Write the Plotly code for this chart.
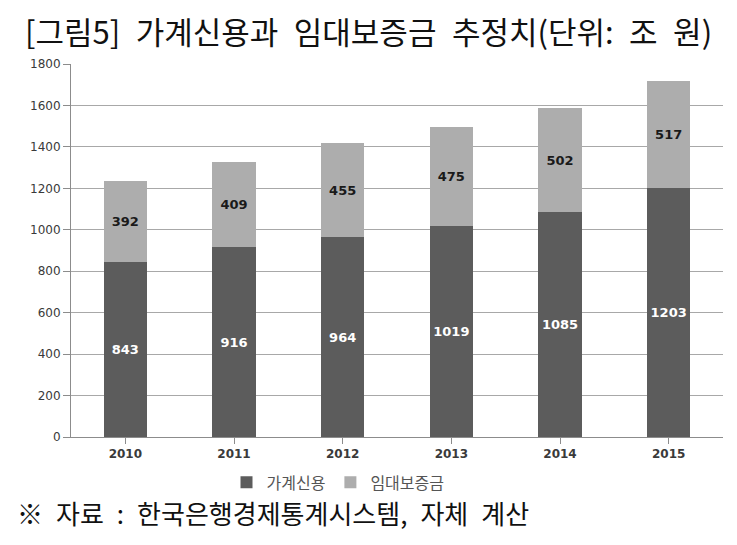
import plotly.graph_objects as go

years = ["2010", "2011", "2012", "2013", "2014", "2015"]
household_credit = [843, 916, 964, 1019, 1085, 1203]
rent_deposit = [392, 409, 455, 475, 502, 517]
y_ticks = [0, 200, 400, 600, 800, 1000, 1200, 1400, 1600, 1800]

title_text = "[그림5] 가계신용과 임대보증금 추정치(단위: 조 원)"
source_text = "※ 자료 : 한국은행경제통계시스템, 자체 계산"

EN = "\u2002"  # half-em space, as in the original's wide Korean typesetting

fig = go.Figure()
fig.add_trace(go.Bar(
    x=years, y=household_credit, name="가계신용",
    marker=dict(color="#5c5c5c", line=dict(width=0)),
    text=[str(v) for v in household_credit], textposition="inside",
    insidetextanchor="middle",
    textfont=dict(family="DejaVu Sans", size=13, color="white", weight="bold"),
))
fig.add_trace(go.Bar(
    x=years, y=rent_deposit, name="임대보증금",
    marker=dict(color="#adadad", line=dict(width=0)),
    text=[str(v) for v in rent_deposit], textposition="inside",
    insidetextanchor="middle",
    textfont=dict(family="DejaVu Sans", size=13, color="#1a1a1a", weight="bold"),
))

# The page body has an 8px default margin; work in window pixels and subtract it.
OFF = 8
W, H = 737 - OFF, 545 - OFF
L = 71 - OFF
T = 64 - OFF
R = W - (723 - OFF)
B = H - (437.5 - OFF)
plot_w = W - L - R
plot_h = H - T - B

def px_x(pix):
    return (pix - OFF - L) / plot_w

def px_y(pix):
    return (H - B - (pix - OFF)) / plot_h

fig.update_layout(
    width=W, height=H,
    barmode="stack", bargap=0.6,
    paper_bgcolor="white", plot_bgcolor="white",
    margin=dict(l=L, r=R, t=T, b=B, autoexpand=False),
    uniformtext=dict(mode="show", minsize=8),
    showlegend=True,
    legend=dict(orientation="h", x=px_x(338), xanchor="center", y=px_y(483), yanchor="middle",
                font=dict(family="Noto Sans CJK KR", size=16, color="#555555"),
                itemwidth=30, traceorder="normal", tracegroupgap=0),
    xaxis=dict(
        showline=True, linecolor="#8c8c8c", linewidth=1,
        ticks="outside", tickcolor="#8c8c8c", ticklen=6,
        tickfont=dict(family="DejaVu Sans", size=12, color="#3a3a3a", weight="bold"),
        showgrid=False,
    ),
    yaxis=dict(
        range=[0, 1800], tickvals=y_ticks,
        showline=True, linecolor="#8c8c8c", linewidth=1,
        ticks="outside", tickcolor="#8c8c8c", ticklen=7,
        showgrid=True, gridcolor="#a8a8a8", gridwidth=1,
        tickfont=dict(family="DejaVu Sans", size=12, color="#3a3a3a"),
        zeroline=False,
    ),
    annotations=[
        dict(text=title_text.replace(" ", EN), xref="paper", yref="paper",
             x=px_x(368), xanchor="center", y=px_y(30), yanchor="middle", showarrow=False,
             font=dict(family="Noto Sans CJK KR", size=31, color="#111111")),
        dict(text=source_text.replace(" ", EN), xref="paper", yref="paper",
             x=px_x(15), xanchor="left", y=px_y(513), yanchor="middle", showarrow=False,
             font=dict(family="Noto Sans CJK KR", size=26, color="#111111")),
    ],
)

fig.write_html("out.html")
